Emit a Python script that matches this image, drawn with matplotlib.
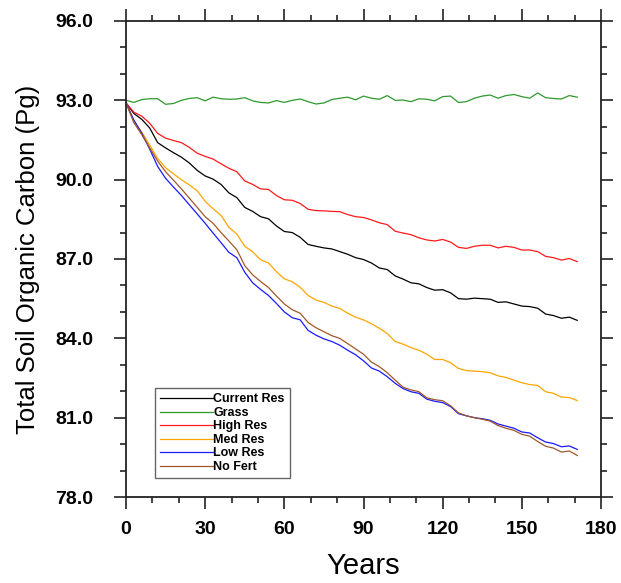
import matplotlib
matplotlib.use("Agg")
import matplotlib.pyplot as plt
from matplotlib.ticker import MultipleLocator, FormatStrFormatter


# ---------------------------
# Data (every 3 years)
# ---------------------------

years = list(range(0, 172, 3))

current_res = [
    92.90, 92.50, 92.28, 91.95, 91.40, 91.20, 91.02, 90.85, 90.63, 90.35,
    90.14, 90.02, 89.82, 89.50, 89.32, 88.95, 88.80, 88.60, 88.52, 88.25,
    88.04, 88.00, 87.82, 87.55, 87.48, 87.42, 87.38, 87.28, 87.18, 87.05,
    86.98, 86.85, 86.66, 86.60, 86.36, 86.24, 86.10, 86.06, 85.92, 85.82,
    85.84, 85.72, 85.50, 85.48, 85.52, 85.50, 85.48, 85.36, 85.38, 85.30,
    85.22, 85.20, 85.14, 84.92, 84.86, 84.76, 84.80, 84.68,
]

grass = [
    93.00, 92.92, 93.03, 93.06, 93.06, 92.85, 92.88, 93.00, 93.07, 93.10,
    92.98, 93.12, 93.06, 93.04, 93.05, 93.10, 92.98, 92.92, 92.90, 92.99,
    92.92, 93.00, 93.05, 92.95, 92.86, 92.90, 93.03, 93.08, 93.12, 93.02,
    93.16, 93.08, 93.04, 93.18, 93.00, 93.01, 92.95, 93.06, 93.04, 92.98,
    93.14, 93.16, 92.92, 92.95, 93.08, 93.16, 93.20, 93.08, 93.18, 93.22,
    93.14, 93.08, 93.28, 93.10, 93.07, 93.05, 93.18, 93.12,
]

high_res = [
    92.90, 92.55, 92.40, 92.13, 91.75, 91.57, 91.48, 91.40, 91.22, 91.00,
    90.88, 90.78, 90.60, 90.43, 90.30, 89.95, 89.82, 89.65, 89.63, 89.40,
    89.24, 89.22, 89.10, 88.88, 88.83, 88.82, 88.80, 88.79, 88.68, 88.60,
    88.57, 88.48, 88.37, 88.30, 88.05, 87.98, 87.92, 87.80, 87.72, 87.68,
    87.74, 87.64, 87.44, 87.40, 87.48, 87.52, 87.52, 87.42, 87.48, 87.44,
    87.34, 87.34, 87.28, 87.10, 87.05, 86.96, 87.02, 86.90,
]

med_res = [
    92.90, 92.20, 91.80, 91.30, 90.80, 90.45, 90.22, 90.00, 89.80, 89.58,
    89.18, 88.90, 88.65, 88.20, 87.94, 87.48, 87.27, 86.97, 86.85, 86.52,
    86.25, 86.14, 85.93, 85.62, 85.45, 85.36, 85.22, 85.13, 84.95, 84.80,
    84.70, 84.55, 84.38, 84.18, 83.88, 83.78, 83.65, 83.55, 83.40, 83.20,
    83.20, 83.08, 82.86, 82.78, 82.76, 82.74, 82.70, 82.58, 82.52, 82.42,
    82.32, 82.25, 82.22, 81.98, 81.92, 81.78, 81.76, 81.65,
]

low_res = [
    92.90, 92.25, 91.75, 91.15, 90.50, 90.05, 89.72, 89.40, 89.05, 88.70,
    88.35, 87.98, 87.62, 87.25, 87.05, 86.50, 86.10, 85.85, 85.62, 85.32,
    85.00, 84.78, 84.70, 84.30, 84.12, 83.98, 83.88, 83.74, 83.55, 83.38,
    83.15, 82.88, 82.76, 82.55, 82.30, 82.10, 81.98, 81.92, 81.70, 81.62,
    81.57, 81.42, 81.15, 81.07, 81.00, 80.96, 80.90, 80.76, 80.68, 80.60,
    80.46, 80.42, 80.24, 80.08, 80.02, 79.90, 79.93, 79.80,
]

no_fert = [
    92.90, 92.15, 91.70, 91.20, 90.70, 90.30, 89.98, 89.65, 89.30, 88.95,
    88.60, 88.35, 88.00, 87.68, 87.35, 86.75, 86.40, 86.15, 85.92, 85.60,
    85.30, 85.08, 84.95, 84.60, 84.40, 84.25, 84.10, 84.00, 83.80, 83.60,
    83.40, 83.10, 82.93, 82.70, 82.42, 82.15, 82.05, 81.98, 81.75, 81.68,
    81.64, 81.45, 81.18, 81.07, 81.00, 80.94, 80.87, 80.70, 80.60, 80.52,
    80.37, 80.30, 80.10, 79.92, 79.85, 79.70, 79.74, 79.57,
]

labels = ["Current Res", "Grass", "High Res", "Med Res", "Low Res", "No Fert"]
colors = ["#000000", "#2e9a2e", "#ff1a1a", "#ffa500", "#1a1aff", "#a0582a"]


# ---------------------------
# Plot
# ---------------------------

plt.rcParams["font.family"] = ["Liberation Sans", "DejaVu Sans"]

fig = plt.figure(figsize=(6.21, 5.83), dpi=100)
ax = fig.add_axes([0.2029, 0.1475, 0.7649, 0.8165])

series = [current_res, grass, high_res, med_res, low_res, no_fert]
for vals, lab, col in zip(series, labels, colors):
    ax.plot(years, vals, color=col, lw=0.9, label=lab)

ax.set_xlim(0, 180)
ax.set_ylim(78, 96)

ax.xaxis.set_major_locator(MultipleLocator(30))
ax.xaxis.set_minor_locator(MultipleLocator(10))
ax.yaxis.set_major_locator(MultipleLocator(3))
ax.yaxis.set_minor_locator(MultipleLocator(1))
ax.yaxis.set_major_formatter(FormatStrFormatter("%.1f"))

for side in ["left", "right", "top", "bottom"]:
    ax.spines[side].set_linewidth(1.3)
    ax.spines[side].set_color("#222222")

ax.tick_params(which="both", direction="out", top=True, right=True,
               color="#222222", width=1.2)
ax.tick_params(which="major", length=8.5)
ax.tick_params(which="minor", length=4.5)
ax.tick_params(axis="x", which="major", pad=9)
ax.tick_params(axis="y", which="major", pad=15)

for lbl in ax.get_xticklabels() + ax.get_yticklabels():
    lbl.set_fontsize(14)
    lbl.set_fontweight("bold")

ax.set_xlabel("Years", fontsize=21, labelpad=10)
ax.set_ylabel("Total Soil Organic Carbon (Pg)", fontsize=18.5, labelpad=11)

leg = ax.legend(loc="lower left", bbox_to_anchor=(0.06, 0.04),
                fontsize=9, handlelength=4.3, handletextpad=0.0,
                labelspacing=0.12, borderpad=0.4, borderaxespad=0,
                fancybox=False, framealpha=1)
leg.get_frame().set_edgecolor("#666666")
leg.get_frame().set_linewidth(1.0)
for t in leg.get_texts():
    t.set_fontweight("bold")

fig.savefig("out.png", dpi=100)
